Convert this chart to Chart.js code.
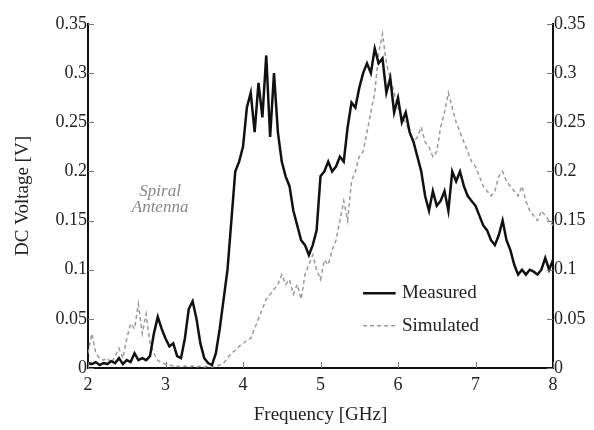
<!DOCTYPE html>
<html lang="en">
<head>
    <meta charset="UTF-8">
    <title>Spiral Antenna DC Voltage</title>
    <script src="https://cdn.jsdelivr.net/npm/chart.js"></script>
    <style>
        html, body { margin: 0; padding: 0; background: #fff; }
        #wrap { width: 594px; height: 430px; }
    </style>
</head>
<body>
<div id="wrap">
    <canvas id="myChart" width="594" height="430"></canvas>
</div>
<script>
    // frequency grid, 2 to 8 GHz in 50 MHz steps
    const freqGHz = Array.from({length: 121}, (_, i) => +(2 + i * 0.05).toFixed(2));

    const measured = [
        0.005, 0.004, 0.006, 0.003, 0.005, 0.004, 0.007, 0.005, 0.010, 0.004,
        0.008, 0.006, 0.015, 0.008, 0.010, 0.008, 0.012, 0.035, 0.052, 0.040,
        0.030, 0.022, 0.025, 0.012, 0.010, 0.030, 0.060, 0.068, 0.050, 0.025,
        0.010, 0.005, 0.003, 0.015, 0.040, 0.070, 0.100, 0.150, 0.200, 0.210,
        0.225, 0.265, 0.280, 0.240, 0.290, 0.255, 0.318, 0.235, 0.300, 0.240,
        0.210, 0.195, 0.185, 0.160, 0.145, 0.130, 0.125, 0.115, 0.125, 0.140,
        0.195, 0.200, 0.210, 0.200, 0.205, 0.215, 0.210, 0.245, 0.270, 0.265,
        0.285, 0.300, 0.310, 0.300, 0.325, 0.310, 0.315, 0.280, 0.295, 0.260,
        0.275, 0.250, 0.260, 0.240, 0.230, 0.215, 0.200, 0.175, 0.160, 0.180,
        0.165, 0.170, 0.180, 0.160, 0.200, 0.190, 0.200, 0.185, 0.175, 0.170,
        0.165, 0.155, 0.145, 0.140, 0.130, 0.125, 0.135, 0.150, 0.130, 0.120,
        0.105, 0.095, 0.100, 0.095, 0.100, 0.098, 0.095, 0.100, 0.112, 0.100,
        0.110
    ];

    const simulated = [
        0.015, 0.035, 0.015, 0.010, 0.008, 0.010, 0.005, 0.012, 0.020, 0.010,
        0.030, 0.045, 0.040, 0.065, 0.035, 0.055, 0.025, 0.015, 0.008, 0.005,
        0.004, 0.003, 0.002, 0.002, 0.001, 0.002, 0.001, 0.002, 0.001, 0.002,
        0.001, 0.002, 0.001, 0.002, 0.003, 0.005, 0.010, 0.015, 0.018, 0.022,
        0.025, 0.028, 0.030, 0.040, 0.050, 0.060, 0.070, 0.075, 0.080, 0.085,
        0.095, 0.085, 0.090, 0.075, 0.085, 0.070, 0.095, 0.105, 0.115, 0.100,
        0.090, 0.110, 0.105, 0.120, 0.130, 0.150, 0.170, 0.150, 0.190, 0.200,
        0.215, 0.220, 0.240, 0.260, 0.280, 0.320, 0.340, 0.310, 0.295, 0.280,
        0.265, 0.255, 0.250, 0.240, 0.230, 0.235, 0.245, 0.230, 0.225, 0.215,
        0.220, 0.245, 0.260, 0.280, 0.265, 0.250, 0.240, 0.230, 0.220, 0.210,
        0.205, 0.195, 0.185, 0.180, 0.175, 0.180, 0.195, 0.200, 0.190, 0.185,
        0.180, 0.175, 0.185, 0.170, 0.160, 0.155, 0.150, 0.160, 0.155, 0.150,
        0.145
    ];

    const yTicks = [0, 0.05, 0.1, 0.15, 0.2, 0.25, 0.3, 0.35];
    const xTicks = [2, 3, 4, 5, 6, 7, 8];
    const seriesNames = ['Measured', 'Simulated'];
    const noteLines = ['Spiral', 'Antenna'];

    const serif = '"Liberation Serif", "Times New Roman", serif';
    const fmt = v => String(Number(v.toFixed(2)));

    // small inward tick marks on the three axes
    const innerTicks = {
        id: 'innerTicks',
        afterDatasetsDraw(chart) {
            const {ctx, chartArea: a, scales} = chart;
            ctx.save();
            ctx.strokeStyle = '#777';
            ctx.lineWidth = 1;
            ctx.beginPath();
            yTicks.forEach(v => {
                const y = Math.round(scales.y.getPixelForValue(v)) + 0.5;
                ctx.moveTo(a.left, y); ctx.lineTo(a.left + 6, y);
                ctx.moveTo(a.right - 6, y); ctx.lineTo(a.right, y);
            });
            xTicks.forEach(v => {
                const x = Math.round(scales.x.getPixelForValue(v)) + 0.5;
                ctx.moveTo(x, a.bottom); ctx.lineTo(x, a.bottom - 6);
            });
            ctx.stroke();
            ctx.restore();
        }
    };

    // legend inside the plot plus the antenna note
    const inPlotText = {
        id: 'inPlotText',
        afterDraw(chart) {
            const {ctx, scales} = chart;
            ctx.save();
            ctx.textBaseline = 'middle';
            const rows = [{y: 0.076, ds: chart.data.datasets[0]}, {y: 0.043, ds: chart.data.datasets[1]}];
            rows.forEach((r, i) => {
                const y = scales.y.getPixelForValue(r.y);
                const x0 = scales.x.getPixelForValue(5.55);
                const x1 = scales.x.getPixelForValue(5.97);
                ctx.strokeStyle = r.ds.borderColor;
                ctx.lineWidth = r.ds.borderWidth;
                ctx.setLineDash(r.ds.borderDash || []);
                ctx.beginPath();
                ctx.moveTo(x0, y); ctx.lineTo(x1, y);
                ctx.stroke();
                ctx.setLineDash([]);
                ctx.fillStyle = '#222';
                ctx.font = '19px ' + serif;
                ctx.textAlign = 'left';
                ctx.fillText(seriesNames[i], scales.x.getPixelForValue(6.05), y);
            });
            ctx.fillStyle = '#888';
            ctx.font = 'italic 17px ' + serif;
            ctx.textAlign = 'center';
            const cx = scales.x.getPixelForValue(2.93);
            ctx.fillText(noteLines[0], cx, scales.y.getPixelForValue(0.18));
            ctx.fillText(noteLines[1], cx, scales.y.getPixelForValue(0.163));
            ctx.restore();
        }
    };

    const data = {
        datasets: [{
            label: seriesNames[0],
            data: freqGHz.map((f, i) => ({x: f, y: measured[i]})),
            borderColor: '#111',
            borderWidth: 2.5,
            pointRadius: 0,
            tension: 0,
            yAxisID: 'y'
        }, {
            label: seriesNames[1],
            data: freqGHz.map((f, i) => ({x: f, y: simulated[i]})),
            borderColor: '#9a9a9a',
            borderWidth: 1.5,
            borderDash: [4, 3],
            pointRadius: 0,
            tension: 0,
            yAxisID: 'y'
        }]
    };

    const yScale = (pos, width) => ({
        type: 'linear',
        position: pos,
        min: 0,
        max: 0.35,
        afterBuildTicks: s => { s.ticks = yTicks.map(v => ({value: v})); },
        afterFit: s => { s.width = width; },
        border: {display: true, color: '#111', width: 2},
        grid: {display: false, drawTicks: false},
        ticks: {
            color: '#222',
            padding: 1,
            font: {family: serif, size: 18},
            callback: v => fmt(v)
        }
    });

    const config = {
        type: 'line',
        data: data,
        options: {
            responsive: false,
            animation: false,
            layout: {padding: {top: 24, left: 0, right: 0, bottom: 0}},
            plugins: {legend: {display: false}, tooltip: {enabled: false}},
            scales: {
                x: {
                    type: 'linear',
                    min: 2,
                    max: 8,
                    afterBuildTicks: s => { s.ticks = xTicks.map(v => ({value: v})); },
                    afterFit: s => { s.height = 62; },
                    border: {display: true, color: '#111', width: 2},
                    grid: {display: false, drawTicks: false},
                    ticks: {color: '#222', padding: 6, font: {family: serif, size: 18}},
                    title: {
                        display: true,
                        text: 'Frequency [GHz]',
                        color: '#222',
                        padding: {top: 6},
                        font: {family: serif, size: 19}
                    }
                },
                y: Object.assign(yScale('left', 88), {
                    title: {
                        display: true,
                        text: 'DC Voltage [V]',
                        color: '#222',
                        padding: {top: 12},
                        font: {family: serif, size: 19}
                    }
                }),
                y2: yScale('right', 41)
            }
        },
        plugins: [innerTicks, inPlotText]
    };

    const myChart = new Chart(document.getElementById('myChart'), config);
</script>
</body>
</html>
